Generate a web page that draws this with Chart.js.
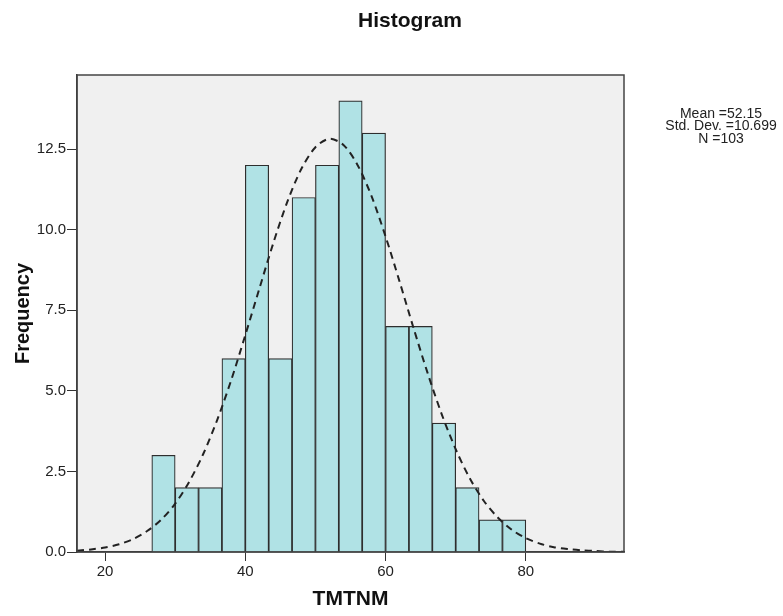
<!DOCTYPE html>
<html>
<head>
<meta charset="utf-8">
<title>Histogram</title>
<script src="https://cdn.jsdelivr.net/npm/chart.js@4.4.1/dist/chart.umd.min.js"></script>
<style>
  html, body { margin: 0; padding: 0; background: #fff; }
</style>
</head>
<body>
<canvas id="histChart" width="783" height="616"></canvas>
<script>
// Step 1: values
// bin centres (bins are 3.333 wide, 26.67 .. 80)
const binCenters = [28.333, 31.667, 35, 38.333, 41.667, 45, 48.333, 51.667,
                    55, 58.333, 61.667, 65, 68.333, 71.667, 75, 78.333];
const frequencies = [3, 2, 2, 6, 12, 6, 11, 12, 14, 13, 7, 7, 4, 2, 1, 1];

// dashed normal curve, read every 2 units along x
const curveX = [16, 18, 20, 22, 24, 26, 28, 30, 32, 34, 36, 38, 40, 42, 44, 46, 48, 50, 52, 54,
                56, 58, 60, 62, 64, 66, 68, 70, 72, 74, 76, 78, 80, 82, 84, 86, 88, 90, 92, 94];
const curveY = [0.04, 0.08, 0.14, 0.24, 0.40, 0.65, 1.00, 1.50, 2.18, 3.04, 4.10, 5.34, 6.73, 8.17,
                9.59, 10.87, 11.89, 12.56, 12.82, 12.63, 12.01, 11.04, 9.79, 8.39, 6.94, 5.55,
                4.28, 3.19, 2.29, 1.59, 1.07, 0.69, 0.43, 0.26, 0.15, 0.09, 0.05, 0.03, 0.01, 0.01];

const xTicks = [20, 40, 60, 80];
const yTicks = [0, 2.5, 5, 7.5, 10, 12.5];

const chartTitle = 'Histogram';
const statsLines = ['Mean =52.15', 'Std. Dev. =10.699', 'N =103'];

const FONT = '"Liberation Sans", Arial, sans-serif';

// Step 2: grey plot area, frame, title and stats box text
const plotFrame = {
    id: 'plotFrame',
    beforeDraw(chart) {
        const a = chart.chartArea;
        const ctx = chart.ctx;
        ctx.save();
        ctx.fillStyle = '#f0f0f0';
        ctx.fillRect(a.left, a.top, a.right - a.left, a.bottom - a.top);
        ctx.restore();
    },
    afterDraw(chart) {
        const a = chart.chartArea;
        const ctx = chart.ctx;
        ctx.save();
        ctx.strokeStyle = '#444';
        ctx.lineWidth = 1.5;
        ctx.strokeRect(a.left, a.top, a.right - a.left, a.bottom - a.top);

        ctx.fillStyle = '#111';
        ctx.textAlign = 'center';
        ctx.textBaseline = 'middle';
        ctx.font = 'bold 21px ' + FONT;
        ctx.fillText(chartTitle, 410, 21);

        ctx.font = '14px ' + FONT;
        ctx.fillStyle = '#222';
        statsLines.forEach((s, i) => ctx.fillText(s, 721, 114 + i * 12.5));
        ctx.restore();
    }
};

function createChart() {
    const ctx = document.getElementById('histChart').getContext('2d');
    new Chart(ctx, {
        type: 'bar',
        data: {
            datasets: [{
                type: 'line',
                label: 'Normal',
                order: 0,
                data: curveX.map((x, i) => ({ x: x, y: curveY[i] })),
                borderColor: '#222',
                borderWidth: 2,
                borderDash: [7, 5],
                pointRadius: 0,
                tension: 0.3,
                fill: false
            }, {
                label: 'Frequency',
                order: 1,
                data: binCenters.map((x, i) => ({ x: x, y: frequencies[i] })),
                backgroundColor: '#b0e2e5',
                borderColor: '#2e2e2e',
                borderWidth: 1.2,
                barPercentage: 1,
                categoryPercentage: 1
            }]
        },
        options: {
            responsive: false,
            animation: false,
            devicePixelRatio: 1,
            layout: { padding: { top: 75, right: 159, bottom: 0, left: 0 } },
            plugins: {
                legend: { display: false },
                tooltip: { enabled: false },
                title: { display: false }
            },
            scales: {
                x: {
                    type: 'linear',
                    min: 16,
                    max: 94,
                    offset: false,
                    afterBuildTicks: s => { s.ticks = xTicks.map(v => ({ value: v })); },
                    afterFit: s => { s.height = 64; },
                    grid: { display: true, offset: false, drawOnChartArea: false, drawTicks: true,
                            tickLength: 9, tickColor: '#333', tickWidth: 1 },
                    border: { display: true, color: '#333', width: 1.5 },
                    ticks: { font: { size: 15, family: FONT }, color: '#222', padding: 2, maxRotation: 0 },
                    title: { display: true, text: 'TMTNM', color: '#111',
                             font: { size: 21, weight: 'bold', family: FONT },
                             padding: { top: 0, bottom: 4 } }
                },
                y: {
                    min: 0,
                    max: 14.8,
                    afterBuildTicks: s => { s.ticks = yTicks.map(v => ({ value: v })); },
                    afterFit: s => { s.width = 77; },
                    grid: { display: true, drawOnChartArea: false, drawTicks: true,
                            tickLength: 10, tickColor: '#333', tickWidth: 1 },
                    border: { display: true, color: '#333', width: 1.5 },
                    ticks: { font: { size: 15, family: FONT }, color: '#222', padding: 1,
                             callback: v => v.toFixed(1) },
                    title: { display: true, text: 'Frequency', color: '#111',
                             font: { size: 20, weight: 'bold', family: FONT },
                             padding: { top: 11, bottom: 0 } }
                }
            }
        },
        plugins: [plotFrame]
    });
}

createChart();
</script>
</body>
</html>
